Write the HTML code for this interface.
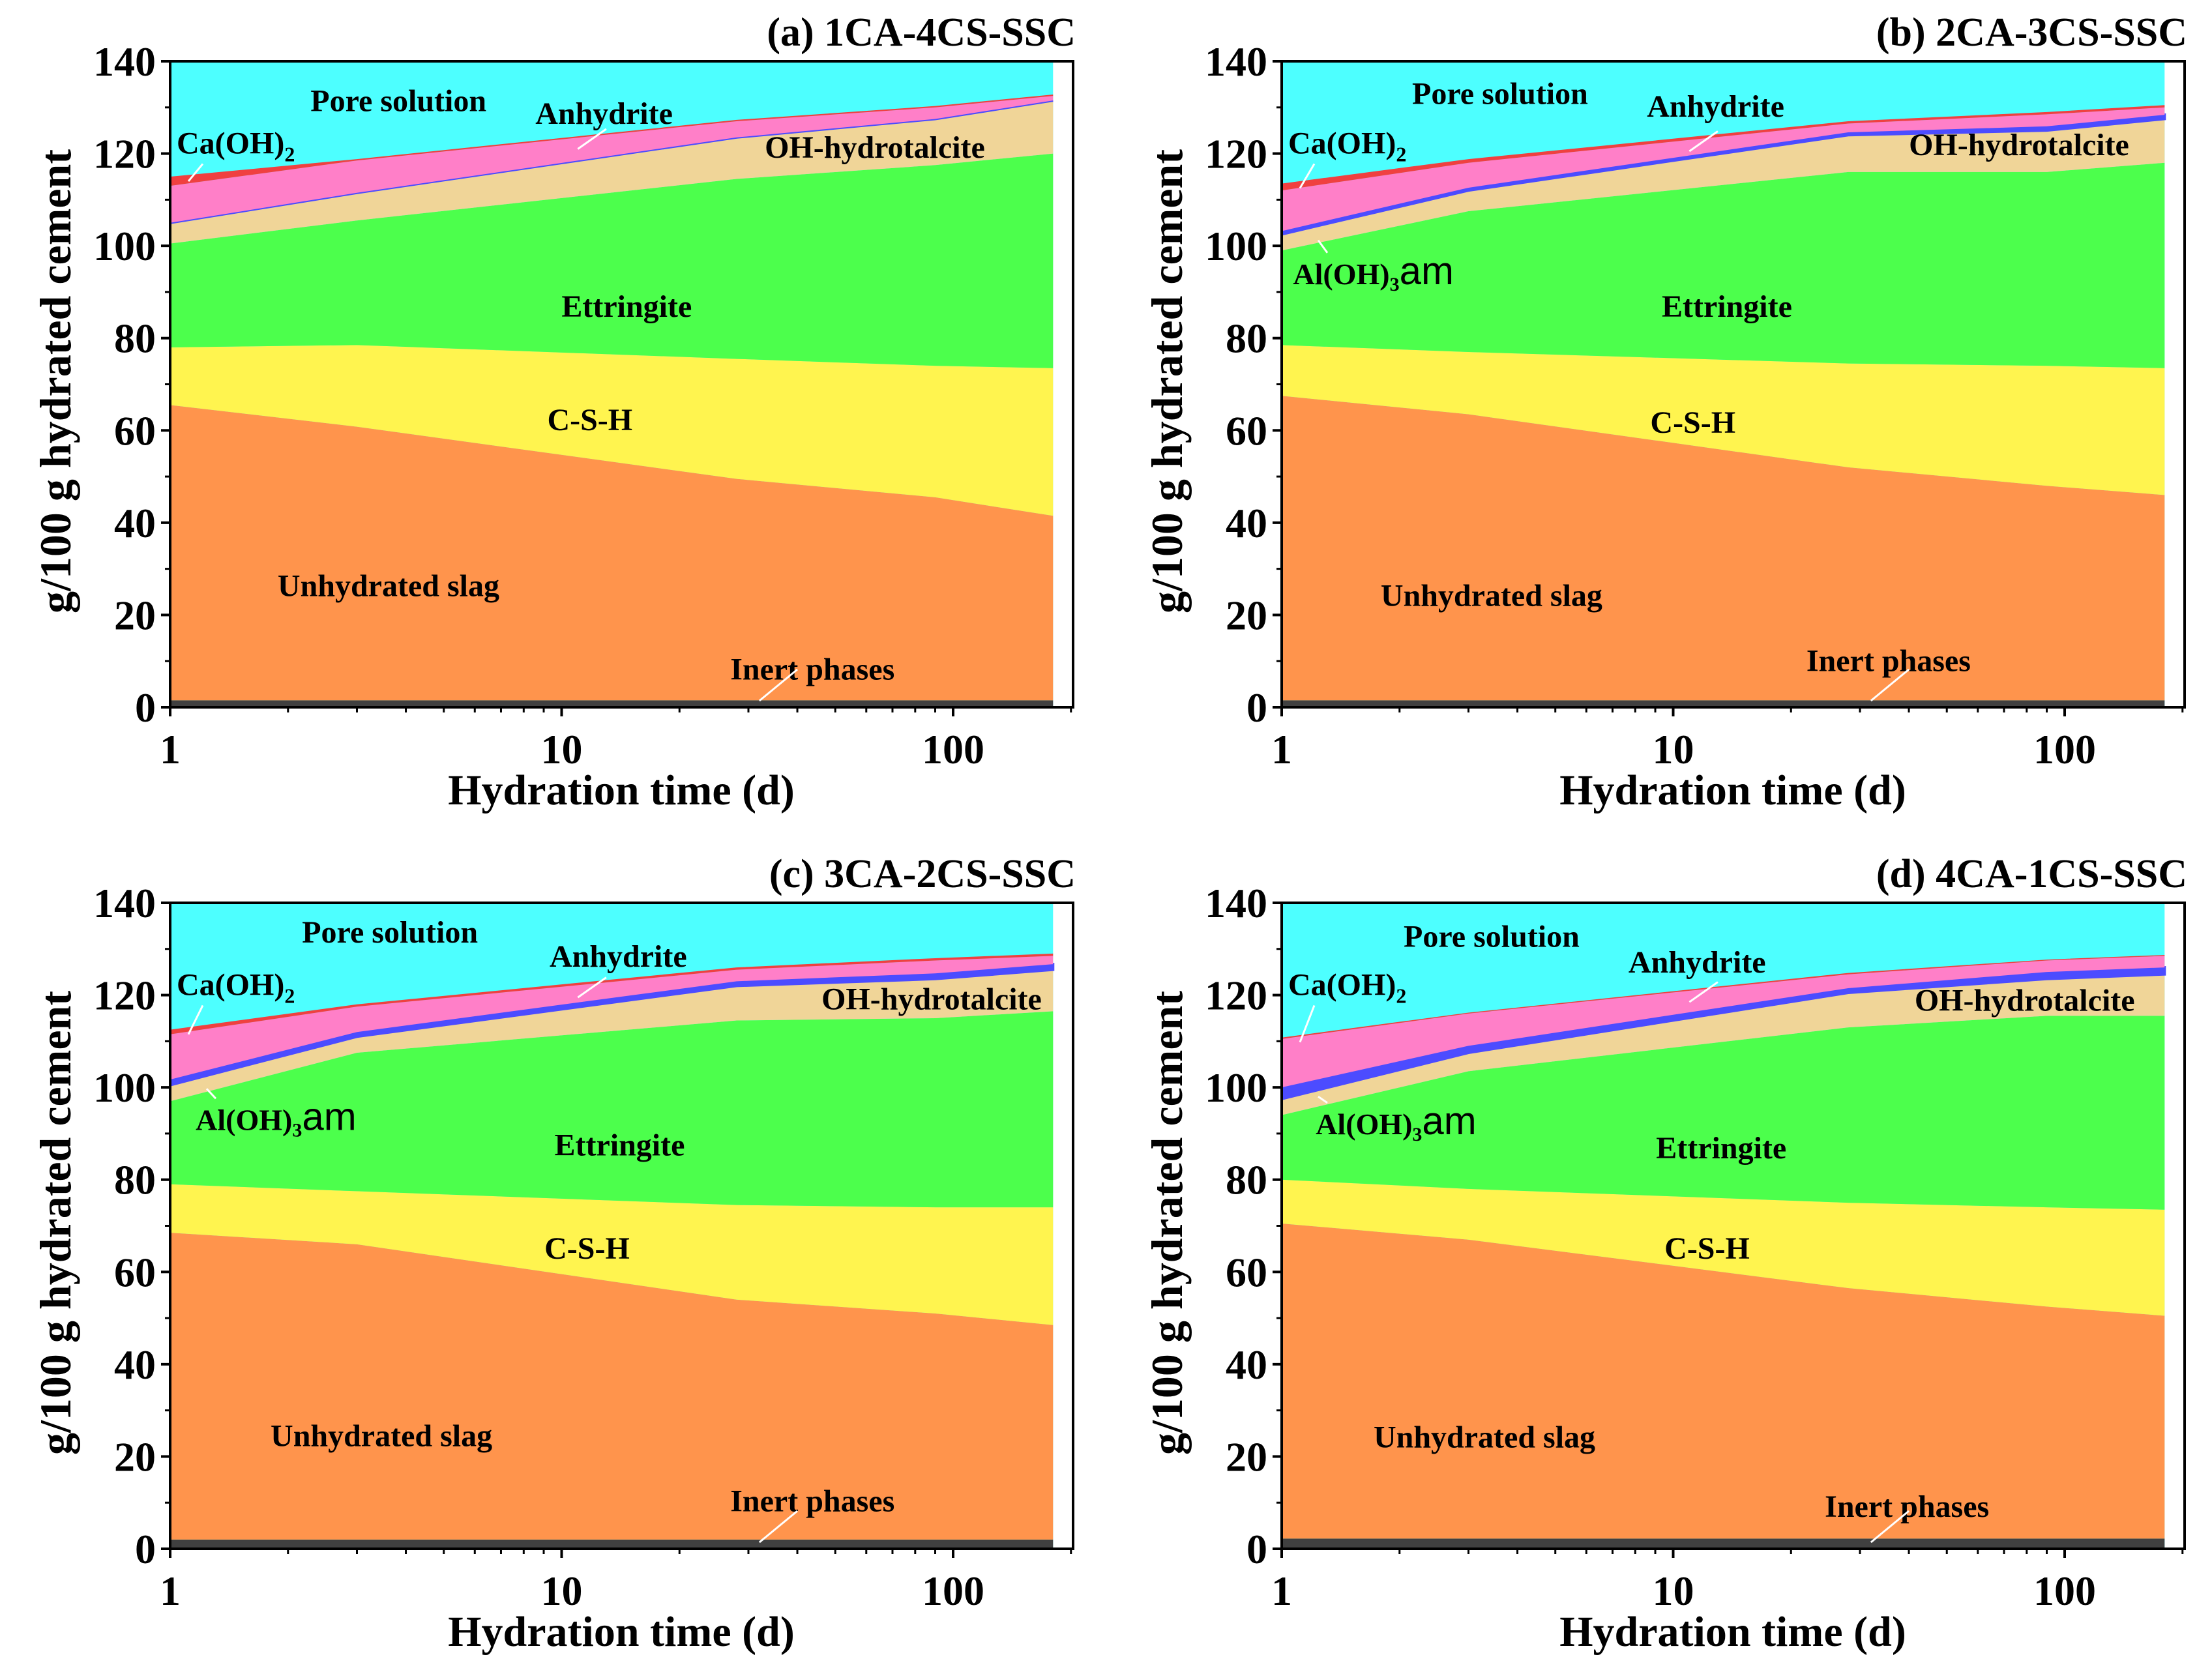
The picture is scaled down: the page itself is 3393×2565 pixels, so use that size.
<!DOCTYPE html>
<html><head><meta charset="utf-8"><style>
html,body{margin:0;padding:0;background:#fff;}
svg{display:block;font-family:"Liberation Serif",serif;font-weight:bold;}
</style></head><body>
<svg id="chart" width="3393" height="2565" viewBox="0 0 3393 2565" xmlns="http://www.w3.org/2000/svg"></svg>
<script>
const times = [1, 3, 28, 90, 180];
const phaseNames = ["Inert phases","Unhydrated slag","C-S-H","Ettringite","OH-hydrotalcite","Al(OH)3am","Anhydrite","Ca(OH)2","Pore solution"];
const phaseColors = ["#404040","#ff944c","#fff44f","#4cff4c","#f0d598","#4c4cff","#ff7fc8","#f04040","#4dffff"];
const aInert=[1.5,1.5,1.5,1.5,1.5], aSlag=[65.5,60.8,49.5,45.5,41.5], aCSH=[78,78.5,75.5,74,73.5], aEtt=[100.5,105.5,114.5,117.5,120], aHtc=[105,111.5,123.5,127.5,131.5], aAl=[105,111.5,123.5,127.5,131.5], aAnh=[113,118.5,127,130,132.5], aCH=[115,118.8,127.3,130.3,132.8];
const bInert=[1.5,1.5,1.5,1.5,1.5], bSlag=[67.5,63.5,52,48,46], bCSH=[78.5,77,74.5,74,73.5], bEtt=[99,107.5,116,116,118], bHtc=[102.5,112,124,125,127.5], bAl=[103.2,112.6,124.6,125.9,128.4], bAnh=[112,118,126.5,128.5,130], bCH=[113.5,118.8,127,129,130.5];
const cInert=[2,2,2,2,2], cSlag=[68.5,66,54,51,48.5], cCSH=[79,77.5,74.5,74,74], cEtt=[97,107.5,114.5,115,116.5], cHtc=[100.5,111,122,123.5,125.5], cAl=[101.7,112,123,124.7,126.7], cAnh=[111.5,117.5,125.5,127.5,128.5], cCH=[112.5,118,126,128,129];
const dInert=[2.2,2.2,2.2,2.2,2.2], dSlag=[70.5,67,56.5,52.5,50.5], dCSH=[80,78,75,74,73.5], dEtt=[94,103.5,113,115.5,115.5], dHtc=[97.5,107.5,120.5,123.5,124.5], dAl=[100,109,121.5,125,126], dAnh=[110.5,116,124.5,127.5,128.5], dCH=[110.8,116.2,124.8,127.7,128.7];
const yTicks=[0,20,40,60,80,100,120,140];
const xTicks=[1,10,100];
const titles=["(a) 1CA-4CS-SSC","(b) 2CA-3CS-SSC","(c) 3CA-2CS-SSC","(d) 4CA-1CS-SSC"];

const panels=[
 {ox:0,oy:0,layers:[aInert,aSlag,aCSH,aEtt,aHtc,aAl,aAnh,aCH],al:false,
  labels:[["Pore solution",281,71],["Anhydrite",426,80],["OH-hydrotalcite",617,104],["Ettringite",442,216],["C-S-H",416,296],["Unhydrated slag",274,413],["Inert phases",573,472]]},
 {ox:1705,oy:0,layers:[bInert,bSlag,bCSH,bEtt,bHtc,bAl,bAnh,bCH],al:true,
  labels:[["Pore solution",274,66],["Anhydrite",426,75],["OH-hydrotalcite",640,102],["Ettringite",434,216],["C-S-H",410,298],["Unhydrated slag",268,420],["Inert phases",548,466]],
  alPos:[128,193]},
 {ox:0,oy:1291,layers:[cInert,cSlag,cCSH,cEtt,cHtc,cAl,cAnh,cCH],al:true,
  labels:[["Pore solution",275,64],["Anhydrite",436,81],["OH-hydrotalcite",657,111],["Ettringite",437,214],["C-S-H",414,287],["Unhydrated slag",269,419],["Inert phases",573,465]],
  alPos:[138,196]},
 {ox:1705,oy:1291,layers:[dInert,dSlag,dCSH,dEtt,dHtc,dAl,dAnh,dCH],al:true,
  labels:[["Pore solution",268,67],["Anhydrite",413,85],["OH-hydrotalcite",644,112],["Ettringite",430,216],["C-S-H",420,287],["Unhydrated slag",263,420],["Inert phases",561,469]],
  alPos:[144,199]}
];
const S=2.175;
const NS="http://www.w3.org/2000/svg";
const svg=document.getElementById('chart');
function mk(tag,attrs,parent){const e=document.createElementNS(NS,tag);for(const k in attrs)e.setAttribute(k,attrs[k]);(parent||svg).appendChild(e);return e;}
const X0=261, DEC=600.5, XR=1646, Y0=1085, YT=94;
panels.forEach((p,pi)=>{
  const g=mk('g',{transform:`translate(${p.ox},${p.oy})`});
  
  
  const xs=t=>X0+Math.log10(t)*DEC;
  const ys=v=>Y0-v*(Y0-YT)/140;
  const bg=mk('rect',{x:X0,y:YT,width:xs(times[times.length-1])-X0,height:Y0-YT,fill:phaseColors[8]},g);
  
  
  let prev=times.map(()=>0);
  for(let li=0;li<p.layers.length;li++){
    const top=p.layers[li];
    let d='M'+times.map((t,i)=>xs(t)+','+ys(top[i])).join(' L');
    for(let i=times.length-1;i>=0;i--) d+=' L'+xs(times[i])+','+ys(prev[i]);
    d+='Z';
    const path=mk('path',{d:d,fill:phaseColors[li],stroke:li==5?phaseColors[5]:'none','stroke-width':li==5?4:0},g);
    
    
    prev=top;
  }
  const fr=mk('rect',{x:X0,y:YT,width:XR-X0,height:Y0-YT,fill:'none',stroke:'#000','stroke-width':4},g);
  
  
  yTicks.forEach(v=>{
    const tl=mk('line',{x1:X0-14,x2:X0,y1:ys(v),y2:ys(v),stroke:'#000','stroke-width':4},g);
    
    
    if(v<140){const m=mk('line',{x1:X0-8,x2:X0,y1:ys(v+10),y2:ys(v+10),stroke:'#000','stroke-width':3},g);
      
      }
    const t=mk('text',{x:X0-22,y:ys(v)+22,'text-anchor':'end','font-size':64},g);
    t.textContent=v;
    
    
  });
  for(let dd=1;dd<=100;dd*=10){for(let k=1;k<=9;k++){const v=dd*k;const x=xs(v);if(x>XR)break;
    const ln=mk('line',{x1:x,x2:x,y1:Y0,y2:Y0+(k==1?14:8),stroke:'#000','stroke-width':k==1?4:3},g);
    
    }}
  xTicks.forEach(v=>{const t=mk('text',{x:xs(v),y:Y0+86,'text-anchor':'middle','font-size':64},g);
    t.textContent=v;
    
    });
  const xt=mk('text',{x:953,y:1234,'text-anchor':'middle','font-size':66},g);
  xt.textContent='Hydration time (d)';
  
  
  const yt=mk('text',{x:0,y:0,'text-anchor':'middle','font-size':68,transform:`translate(108,585) rotate(-90)`},g);
  yt.textContent='g/100 g hydrated cement';
  
  
  const ti=mk('text',{x:XR+4,y:70,'text-anchor':'end','font-size':62},g);
  ti.textContent=titles[pi];
  
  
  p.labels.forEach(l=>{const t=mk('text',{x:l[1]*S,y:l[2]*S+16,'text-anchor':'middle','font-size':48},g);
    t.textContent=l[0];
    
    });
  const ct=mk('text',{x:X0+10,y:ys(122)+14,'font-size':48},g);
  ct.innerHTML='Ca(OH)<tspan font-size="32" dy="12">2</tspan>';
  
  
  const ca=mk('line',{x1:X0+50,y1:ys(122)+30,x2:X0+28,y2:ys(p.layers[7][0]-1),stroke:'#fff','stroke-width':3},g);
  
  
  const ia=mk('line',{x1:xs(40),y1:Y0-58,x2:xs(32),y2:Y0-10,stroke:'#fff','stroke-width':3},g);
  
  
  const aa=mk('line',{x1:xs(13),y1:ys(p.layers[6][2]-4.5)-20,x2:xs(11),y2:ys(p.layers[6][2]-6),stroke:'#fff','stroke-width':3},g);
  
  
  if(p.al){
    const lx=p.alPos[0]*S, ly=p.alPos[1]*S+16;
    const at=mk('text',{x:lx,y:ly,'font-size':46},g);
    at.innerHTML='Al(OH)<tspan font-size="30" dy="10">3</tspan><tspan dy="-10" font-weight="normal" font-family="Liberation Sans, sans-serif" font-size="60">am</tspan>';
    
    
    const al=mk('line',{x1:X0+70,y1:ly-48,x2:X0+56,y2:ys(p.layers[5][0]-2),stroke:'#fff','stroke-width':3},g);
    
    
  }
});
</script>
</body></html>
